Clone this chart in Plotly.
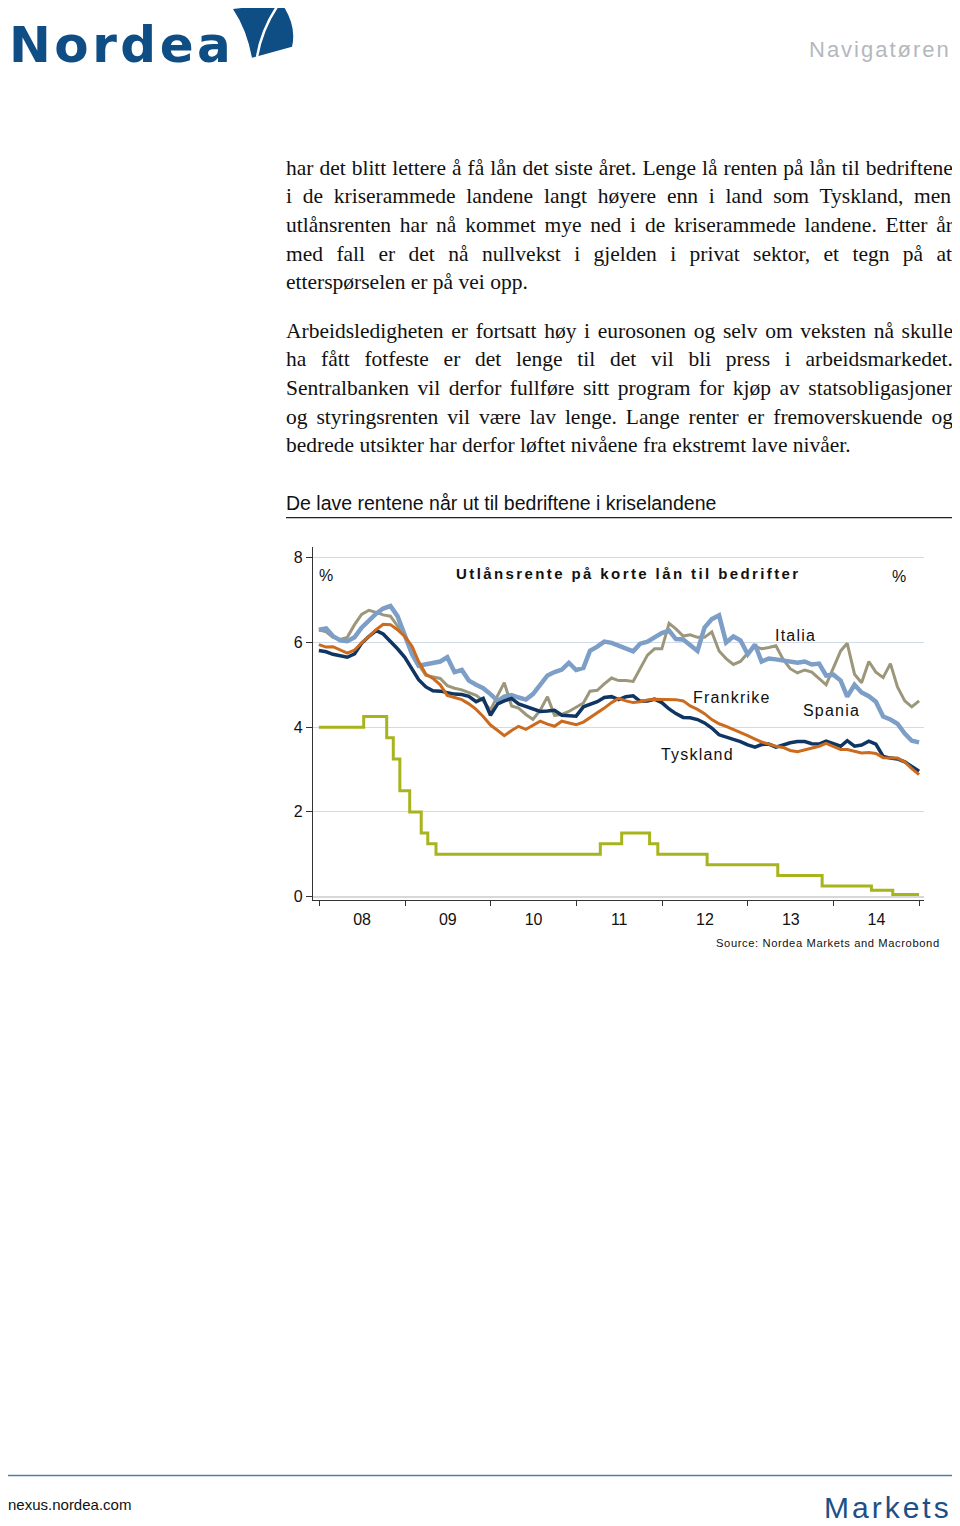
import pandas as pd
import plotly.graph_objects as go

# the page body keeps an 8px margin, so the figure is drawn 8px in from the top-left
OFF = 8
W, H = 960 - OFF, 1526 - OFF
Y_STRETCH = 1.003  # small vertical correction measured against the reference

# ---- data -------------------------------------------------------------
months = pd.date_range("2007-12-31", periods=85, freq="ME")

spania = [6.30, 6.33, 6.15, 6.05, 6.03, 6.12, 6.35, 6.52, 6.68, 6.80, 6.86, 6.62, 6.20, 5.72, 5.45,
          5.48, 5.53, 5.55, 5.65, 5.30, 5.35, 5.10, 5.00, 4.92, 4.78, 4.62, 4.72, 4.76, 4.70,
          4.65, 4.78, 5.00, 5.22, 5.30, 5.36, 5.52, 5.35, 5.40, 5.80, 5.90, 6.02, 5.99, 5.92,
          5.87, 5.79, 5.97, 6.02, 6.12, 6.22, 6.28, 6.08, 6.07, 5.95, 5.80, 6.35, 6.55, 6.64,
          6.00, 6.14, 6.05, 5.72, 5.95, 5.55, 5.62, 5.60, 5.58, 5.55, 5.52, 5.55, 5.48, 5.50,
          5.22, 5.24, 5.10, 4.72, 5.00, 4.82, 4.73, 4.60, 4.25, 4.18, 4.08, 3.85, 3.68, 3.64]

italia = [6.30, 6.25, 6.12, 6.07, 6.12, 6.42, 6.66, 6.76, 6.71, 6.65, 6.62, 6.40, 6.15, 5.80, 5.48,
          5.22, 5.18, 5.15, 4.98, 4.92, 4.88, 4.82, 4.75, 4.62, 4.40, 4.75, 5.05, 4.50, 4.45,
          4.30, 4.18, 4.40, 4.72, 4.28, 4.30, 4.37, 4.47, 4.57, 4.85, 4.87, 5.02, 5.16, 5.10,
          5.10, 5.08, 5.40, 5.70, 5.85, 5.85, 6.45, 6.32, 6.15, 6.18, 6.12, 6.12, 6.25, 5.80,
          5.62, 5.48, 5.55, 5.75, 5.90, 5.85, 5.88, 5.92, 5.60, 5.38, 5.28, 5.35, 5.30, 5.15,
          5.00, 5.40, 5.80, 5.98, 5.25, 5.05, 5.55, 5.30, 5.17, 5.50, 4.95, 4.62, 4.48, 4.62]

tyskland = [5.81, 5.78, 5.72, 5.69, 5.65, 5.73, 5.98, 6.14, 6.28, 6.20, 6.03, 5.85, 5.65, 5.38, 5.12,
            4.95, 4.86, 4.85, 4.82, 4.78, 4.77, 4.73, 4.60, 4.68, 4.28, 4.55, 4.62, 4.68, 4.55,
            4.49, 4.45, 4.37, 4.38, 4.40, 4.28, 4.27, 4.26, 4.48, 4.53, 4.60, 4.70, 4.72, 4.65,
            4.72, 4.74, 4.61, 4.62, 4.66, 4.58, 4.43, 4.32, 4.23, 4.22, 4.18, 4.10, 3.98, 3.82,
            3.76, 3.71, 3.66, 3.58, 3.53, 3.59, 3.60, 3.53, 3.58, 3.63, 3.66, 3.66, 3.61, 3.60,
            3.67, 3.62, 3.55, 3.68, 3.55, 3.58, 3.67, 3.60, 3.31, 3.27, 3.25, 3.18, 3.06, 2.96]

frankrike = [5.95, 5.89, 5.90, 5.83, 5.75, 5.82, 5.99, 6.14, 6.30, 6.43, 6.42, 6.30, 6.14, 5.91, 5.55,
             5.25, 5.15, 5.00, 4.75, 4.70, 4.65, 4.55, 4.42, 4.25, 4.05, 3.92, 3.80, 3.92, 4.02,
             3.95, 4.05, 4.14, 4.07, 4.02, 4.14, 4.10, 4.06, 4.12, 4.22, 4.33, 4.45, 4.58, 4.68,
             4.62, 4.58, 4.60, 4.64, 4.66, 4.66, 4.65, 4.65, 4.62, 4.50, 4.42, 4.32, 4.18, 4.08,
             4.02, 3.95, 3.88, 3.80, 3.72, 3.65, 3.60, 3.55, 3.52, 3.45, 3.42, 3.47, 3.50, 3.55,
             3.62, 3.55, 3.47, 3.47, 3.43, 3.39, 3.40, 3.38, 3.28, 3.27, 3.27, 3.18, 3.02, 2.88]

# ECB main refinancing rate (step changes)
ecb_dates = ["2007-12-31", "2008-07-09", "2008-10-15", "2008-11-12", "2008-12-10", "2009-01-21",
             "2009-03-11", "2009-04-08", "2009-05-13", "2011-04-13", "2011-07-13", "2011-11-09",
             "2011-12-14", "2012-07-11", "2013-05-08", "2013-11-13", "2014-06-11", "2014-09-10",
             "2014-12-31"]
ecb_rate = [4.00, 4.25, 3.75, 3.25, 2.50, 2.00, 1.50, 1.25, 1.00, 1.25, 1.50, 1.25,
            1.00, 0.75, 0.50, 0.25, 0.15, 0.05, 0.05]

y_ticks = [0, 2, 4, 6, 8]

paragraph_1 = [
    "har det blitt lettere å få lån det siste året. Lenge lå renten på lån til bedriftene",
    "i de kriserammede landene langt høyere enn i land som Tyskland, men",
    "utlånsrenten har nå kommet mye ned i de kriserammede landene. Etter år",
    "med fall er det nå nullvekst i gjelden i privat sektor, et tegn på at",
    "etterspørselen er på vei opp.",
]
paragraph_2 = [
    "Arbeidsledigheten er fortsatt høy i eurosonen og selv om veksten nå skulle",
    "ha fått fotfeste er det lenge til det vil bli press i arbeidsmarkedet.",
    "Sentralbanken vil derfor fullføre sitt program for kjøp av statsobligasjoner",
    "og styringsrenten vil være lav lenge. Lange renter er fremoverskuende og",
    "bedrede utsikter har derfor løftet nivåene fra ekstremt lave nivåer.",
]

# ---- helpers ----------------------------------------------------------
SANS = "Liberation Sans, Arial, sans-serif"
SERIF = "Liberation Serif, Times New Roman, serif"


def px(x):
    return (x - OFF) / W


def py(y):
    return 1 - (50 + (y - 50) * Y_STRETCH - OFF) / H


def spaced(text, ls):
    return f"<span style='letter-spacing:{ls}px'>{text}</span>"


# Times widths (1/1000 em) used to justify the body text
TIMES = dict(zip("abcdefghijklmnopqrstuvwxyz",
                 [444, 500, 444, 500, 444, 333, 500, 500, 278, 278, 500, 278, 778,
                  500, 500, 500, 500, 333, 389, 278, 500, 500, 722, 500, 500, 444]))
TIMES.update({"å": 444, "ø": 500, "æ": 667, "A": 722, "E": 611, "L": 611, "S": 556,
              "T": 611, ".": 250, ",": 250, " ": 250})

BODY_SIZE = 21.5
BODY_LEFT, BODY_RIGHT = 286, 953


def justify(line, last):
    if last:
        return line
    natural = sum(TIMES.get(c, 500) for c in line) / 1000 * BODY_SIZE
    ws = (BODY_RIGHT - BODY_LEFT - natural) / line.count(" ")
    return f"<span style='word-spacing:{ws:.2f}px'>{line}</span>"


fig = go.Figure()

# ---- chart traces -----------------------------------------------------
fig.add_trace(go.Scatter(x=months, y=italia, mode="lines", name="Italia",
                         line=dict(color="#9c977a", width=3)))
fig.add_trace(go.Scatter(x=months, y=spania, mode="lines", name="Spania",
                         line=dict(color="#7d9ec6", width=4.5)))
fig.add_trace(go.Scatter(x=months, y=tyskland, mode="lines", name="Tyskland",
                         line=dict(color="#0f3562", width=3.5)))
fig.add_trace(go.Scatter(x=months, y=frankrike, mode="lines", name="Frankrike",
                         line=dict(color="#cc6b1e", width=3)))
fig.add_trace(go.Scatter(x=ecb_dates, y=ecb_rate, mode="lines", name="ESB",
                         line=dict(color="#a8b41e", width=3, shape="hv")))

# ---- page texts -------------------------------------------------------
ann = []


def text(x, y, t, size, color="#111111", family=SANS, xanchor="left", bold=False):
    if xanchor == "left":
        x -= 2  # annotation box padding
    ann.append(dict(x=px(x), y=py(y), xref="paper", yref="paper", text=t, showarrow=False,
                    xanchor=xanchor, yanchor="middle",
                    font=dict(size=size, color=color, family=family,
                              weight="bold" if bold else "normal")))


# header
text(9, 45, spaced("Nordea", 3.5), 50, color="#0f4d85", family="DejaVu Sans", bold=True)
text(880, 50, spaced("Navigatøren", 2), 22, color="#b3b8be", xanchor="center")

# body
for i, line in enumerate(paragraph_1):
    text(BODY_LEFT, 168 + i * 28.6, justify(line, i == len(paragraph_1) - 1), BODY_SIZE, family=SERIF)
for i, line in enumerate(paragraph_2):
    text(BODY_LEFT, 331 + i * 28.6, justify(line, i == len(paragraph_2) - 1), BODY_SIZE, family=SERIF)

text(BODY_LEFT, 503, "De lave rentene når ut til bedriftene i kriselandene", 19.5)

# chart texts
text(628, 574, spaced("Utlånsrente på korte lån til bedrifter", 2.4), 15, xanchor="center", bold=True)
text(326, 576, "%", 16, xanchor="center")
text(899, 577, "%", 16, xanchor="center")
text(795, 636, spaced("Italia", 1.2), 16, xanchor="center")
text(731, 698, spaced("Frankrike", 1.2), 16, xanchor="center")
text(831, 711, spaced("Spania", 1.2), 16, xanchor="center")
text(697, 755, spaced("Tyskland", 1.2), 16, xanchor="center")
text(942, 943, spaced("Source: Nordea Markets and Macrobond", 0.6), 11.2, xanchor="right")

# footer
text(8, 1505, "nexus.nordea.com", 15)
text(954, 1508, spaced("Markets", 3), 30, color="#1b5088", xanchor="right")

# ---- shapes -----------------------------------------------------------
def path(points):
    out = []
    for cmd, pts in points:
        out.append(cmd + " ".join(f"{px(x):.5f},{py(y):.5f}" for x, y in pts))
    return " ".join(out)


sail = path([("M", [(233, 9)]), ("L", [(282, 4)]), ("Q", [(297, 26), (292, 47)]),
             ("L", [(252, 58)]), ("Q", [(247, 30), (233, 9)]), ("Z", [])])
sail_cut = path([("M", [(279, 4)]), ("Q", [(262, 28), (257, 57)])])

shapes = [
    dict(type="path", path=sail, xref="paper", yref="paper", fillcolor="#0f4d85", line=dict(width=0)),
    dict(type="path", path=sail_cut, xref="paper", yref="paper", line=dict(color="white", width=2.5)),
    dict(type="line", xref="paper", yref="paper", x0=px(286), x1=px(953), y0=py(518), y1=py(518),
         line=dict(color="#222222", width=1.2)),
    dict(type="line", xref="paper", yref="paper", x0=px(8), x1=px(953), y0=py(1476), y1=py(1476),
         line=dict(color="#4f7db0", width=1.5)),
]

# ---- layout -----------------------------------------------------------
tick_font = dict(size=16, color="#111111", family=SANS)
y_common = dict(range=[-0.078, 8.26], tickvals=y_ticks, showline=True, linecolor="#333333",
                linewidth=1.3, ticks="outside", ticklen=6, tickcolor="#333333", tickfont=tick_font,
                fixedrange=True)

fig.update_layout(
    width=W, height=H,
    margin=dict(l=0, r=0, t=0, b=0),
    paper_bgcolor="white", plot_bgcolor="rgba(0,0,0,0)",
    showlegend=False,
    xaxis=dict(domain=[px(313), px(924)], type="date", range=["2007-12-06", "2015-01-21"],
               dtick="M12", tick0="2008-01-01", tickformat="%y", ticklabelmode="period",
               showline=True, linecolor="#333333", linewidth=1.3, ticks="outside", ticklen=5,
               tickcolor="#333333", tickfont=tick_font, showgrid=False, fixedrange=True),
    yaxis=dict(domain=[py(900.3), py(547)], showgrid=True, gridcolor="#cfdbe6", gridwidth=1,
               zeroline=True, zerolinecolor="#d8d8d8", zerolinewidth=2, **y_common),
    yaxis2=dict(overlaying="y", side="right", anchor="x", showgrid=False, zeroline=False, **y_common),
    annotations=ann,
    shapes=shapes,
)

fig.write_html("out.html")
